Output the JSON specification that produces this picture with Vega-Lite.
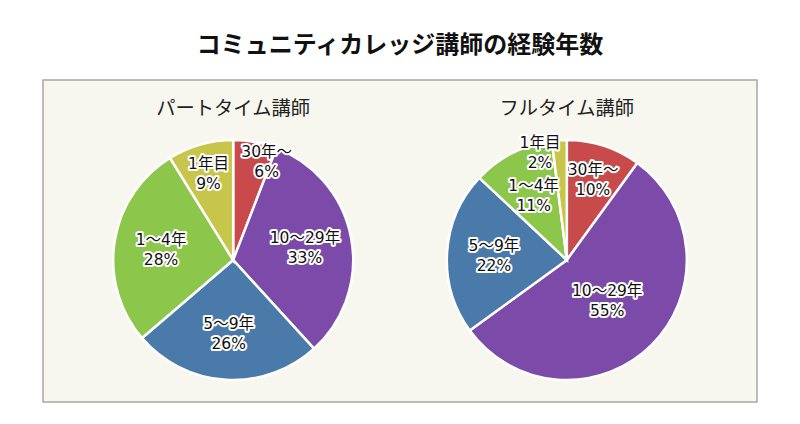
{
  "$schema": "https://vega.github.io/schema/vega-lite/v6.json",
  "width": 714,
  "height": 322,
  "autosize": {"type": "none"},
  "padding": {"left": 43, "top": 80, "right": 43, "bottom": 22},
  "background": "white",
  "title": {"text": "コミュニティカレッジ講師の経験年数", "font": "Noto Sans CJK JP", "fontSize": 24, "fontWeight": "bold", "color": "#111111", "anchor": "middle", "offset": 22},
  "config": {"view": {"fill": "#f7f7ef", "stroke": "#a8a8a0", "strokeWidth": 1.5}},
  "data": {"values": [
    {"group": "パートタイム講師", "cat": "30年〜", "k": 1, "pct": 6},
    {"group": "パートタイム講師", "cat": "10〜29年", "k": 2, "pct": 33},
    {"group": "パートタイム講師", "cat": "5〜9年", "k": 3, "pct": 26},
    {"group": "パートタイム講師", "cat": "1〜4年", "k": 4, "pct": 28},
    {"group": "パートタイム講師", "cat": "1年目", "k": 5, "pct": 9},
    {"group": "フルタイム講師", "cat": "30年〜", "k": 1, "pct": 10},
    {"group": "フルタイム講師", "cat": "10〜29年", "k": 2, "pct": 55},
    {"group": "フルタイム講師", "cat": "5〜9年", "k": 3, "pct": 22},
    {"group": "フルタイム講師", "cat": "1〜4年", "k": 4, "pct": 11},
    {"group": "フルタイム講師", "cat": "1年目", "k": 5, "pct": 2}
  ]},
  "transform": [
    {"stack": "pct", "groupby": ["group"], "sort": [{"field": "k", "order": "ascending"}], "as": ["v0", "v1"], "offset": "normalize"},
    {"calculate": "(datum.v0 + datum.v1) / 2", "as": "mid"},
    {"calculate": "datum.cat + '\\n' + datum.pct + '%'", "as": "lbl"}
  ],
  "encoding": {
    "x": {"field": "group", "type": "nominal", "scale": {"type": "point", "padding": 0.57, "domain": ["パートタイム講師", "フルタイム講師"]}, "axis": null}
  },
  "layer": [
    {
      "mark": {"type": "arc", "radius": 120, "stroke": "white", "strokeWidth": 2.5},
      "encoding": {
        "y": {"datum": 0, "type": "quantitative", "scale": {"domain": [-142, 180], "nice": false, "zero": false}, "axis": null},
        "theta": {"field": "v0", "type": "quantitative", "scale": {"domain": [0, 1]}},
        "theta2": {"field": "v1"},
        "color": {"field": "cat", "type": "nominal", "legend": null,
          "scale": {"domain": ["30年〜", "10〜29年", "5〜9年", "1〜4年", "1年目"], "range": ["#c84a4a", "#7c4aa8", "#4a7aaa", "#8cc64a", "#c8c64a"]}}
      }
    },
    {
      "mark": {"type": "text", "font": "DejaVu Sans, Noto Sans CJK JP", "fontSize": 15.5, "lineBreak": "\n", "lineHeight": 20, "align": "center", "baseline": "middle", "fill": "white", "stroke": "white", "strokeWidth": 4, "strokeJoin": "round",
        "radius": {"expr": "datum.pct <= 2 ? 108 : datum.pct <= 6 ? 106 : datum.pct <= 9 ? 90 : datum.pct <= 10 ? 85 : datum.pct > 40 ? 57 : 73"},
        "dx": {"expr": "datum.pct == 2 ? -20 : datum.pct == 6 ? 14 : 0"},
        "dy": {"expr": "datum.pct == 6 ? -4 : -9"}},
      "encoding": {
        "y": {"datum": 0, "type": "quantitative"},
        "theta": {"field": "mid", "type": "quantitative"},
        "text": {"field": "lbl"}
      }
    },
    {
      "mark": {"type": "text", "font": "DejaVu Sans, Noto Sans CJK JP", "fontSize": 15.5, "lineBreak": "\n", "lineHeight": 20, "align": "center", "baseline": "middle", "fill": "#111111",
        "radius": {"expr": "datum.pct <= 2 ? 108 : datum.pct <= 6 ? 106 : datum.pct <= 9 ? 90 : datum.pct <= 10 ? 85 : datum.pct > 40 ? 57 : 73"},
        "dx": {"expr": "datum.pct == 2 ? -20 : datum.pct == 6 ? 14 : 0"},
        "dy": {"expr": "datum.pct == 6 ? -4 : -9"}},
      "encoding": {
        "y": {"datum": 0, "type": "quantitative"},
        "theta": {"field": "mid", "type": "quantitative"},
        "text": {"field": "lbl"}
      }
    },
    {
      "transform": [{"aggregate": [], "groupby": ["group"]}],
      "mark": {"type": "text", "font": "Noto Sans CJK JP", "fontSize": 19.3, "align": "center", "baseline": "middle", "fill": "#222222"},
      "encoding": {
        "y": {"datum": 151, "type": "quantitative"},
        "text": {"field": "group"}
      }
    }
  ]
}
